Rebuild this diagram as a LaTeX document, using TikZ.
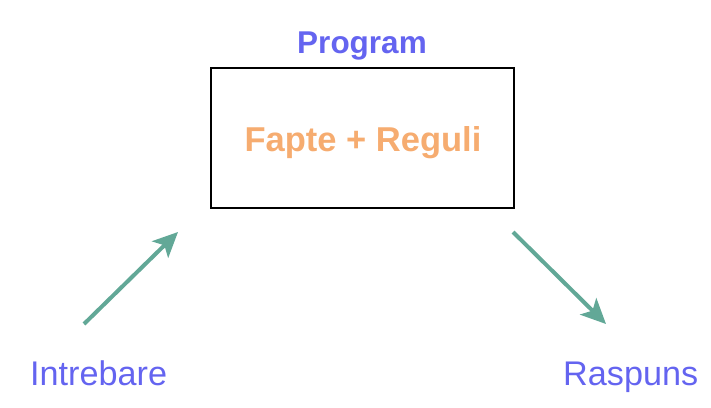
\documentclass[tikz,border=0pt]{standalone}
\usepackage{fontspec}
\setmainfont{Liberation Sans}
\usetikzlibrary{arrows.meta}
\definecolor{lblue}{RGB}{100,100,240}
\definecolor{lorange}{RGB}{246,172,112}
\definecolor{lteal}{RGB}{98,168,151}
\tikzset{
  prog/.style={draw=black, line width=2pt, minimum width=303pt, minimum height=140pt, inner sep=0pt},
  title/.style={text=lblue, font=\fontsize{31.5}{36}\selectfont\bfseries, inner sep=0pt, anchor=base},
  inner/.style={text=lorange, font=\fontsize{34.5}{40}\selectfont\bfseries, inner sep=0pt, anchor=base},
  io/.style={text=lblue, font=\fontsize{34.2}{40}\selectfont, inner sep=0pt, anchor=base west},
  flow/.style={draw=lteal, line width=4pt, -{Stealth[length=25pt,width=23pt,inset=6pt]}}
}
\begin{document}
\begin{tikzpicture}[x=1pt,y=-1pt]
  \useasboundingbox (0,0) rectangle (711,407);
  % program box and its labels
  \node[prog] (box) at (362.5,138) {};
  \node[title] (prog) at (362,53) {Program};
  \node[inner] (fr) at (363,151) {Fapte + Reguli};
  % question and answer
  \node[io] (q) at (30,385) {Intrebare};
  \node[io] (a) at (563,385) {Raspuns};
  % flow arrows
  \coordinate (qs) at (84,324);
  \coordinate (qe) at (178,232);
  \coordinate (as) at (513,232);
  \coordinate (ae) at (606,324);
  \draw[flow] (qs) -- (qe);
  \draw[flow] (as) -- (ae);
\end{tikzpicture}
\end{document}
